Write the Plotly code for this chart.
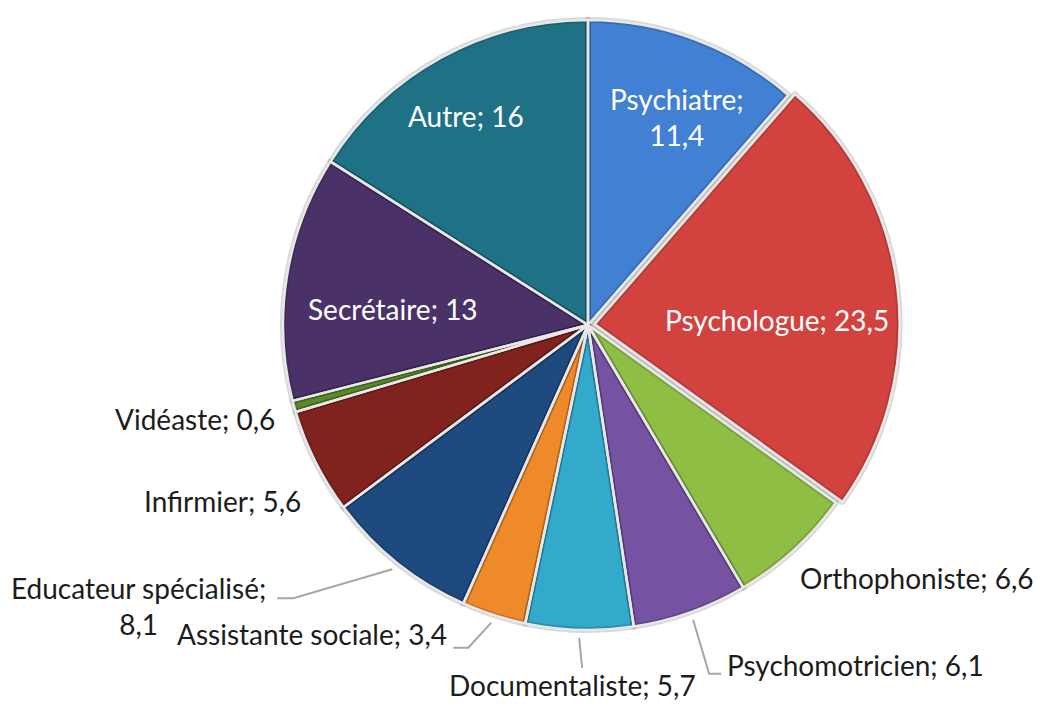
import math
import plotly.graph_objects as go

# ---------------- data ----------------
labels = ["Psychiatre", "Psychologue", "Orthophoniste", "Psychomotricien",
          "Documentaliste", "Assistante sociale", "Educateur spécialisé",
          "Infirmier", "Vidéaste", "Secrétaire", "Autre"]
values = [11.4, 23.5, 6.6, 6.1, 5.7, 3.4, 8.1, 5.6, 0.6, 13, 16]
colors = ["#4180d2", "#d2433f", "#8fbe45", "#7553a2", "#33a9cb", "#ef8a2a",
          "#1f4a80", "#80231f", "#5b8a2c", "#4a3268", "#1f7286"]
pulls = [0, 0.022, 0, 0, 0, 0, 0, 0, 0, 0, 0]

# ---------------- geometry ----------------
W, H = 1037, 704
CX, CY, R = 588, 325, 305
maxpull = max(pulls)
half = R * (1 + maxpull)
dom_x = [(CX - half) / W, (CX + half) / W]
dom_y = [1 - (CY + half) / H, 1 - (CY - half) / H]

total = sum(values)
mids = []
acc = 0
for v in values:
    mids.append((acc + v / 2) / total * 360)
    acc += v


def pt(theta, r):
    a = math.radians(theta)
    return CX + r * math.sin(a), CY - r * math.cos(a)


def vtxt(v):
    return f"{v:g}".replace(".", ",")


FONT = "Lato"
FS = 28

fig = go.Figure()
common = dict(labels=labels, values=values, sort=False, direction="clockwise",
              rotation=0, pull=pulls, textinfo="none",
              domain=dict(x=dom_x, y=dom_y), showlegend=False)
# filled slices
fig.add_trace(go.Pie(marker=dict(colors=colors, line=dict(width=0)),
                     hoverinfo="label+value", **common))
# soft dark rim (bevel impression)
fig.add_trace(go.Pie(marker=dict(colors=["rgba(0,0,0,0)"] * len(values),
                                 line=dict(color="rgba(0,0,0,0.15)", width=6)),
                     hoverinfo="skip", **common))
# light separators
fig.add_trace(go.Pie(marker=dict(colors=["rgba(0,0,0,0)"] * len(values),
                                 line=dict(color="#e8e8e8", width=2.5)),
                     hoverinfo="skip", **common))

annotations = []

# inside labels: index -> (radius fraction, nudge dx, nudge dy, text)
inside = {
    0: (0.73, 11, 1, "Psychiatre;<br>" + vtxt(values[0])),
    1: (0.61, 4, 17, None),
    9: (0.655, 2, 15, None),
    10: (0.775, -8, -2, None),
}
for i, (rf, dx, dy, txt) in inside.items():
    x, y = pt(mids[i], R * rf)
    annotations.append(dict(
        x=x + dx, y=y + dy, xref="x", yref="y", showarrow=False,
        text=txt or f"{labels[i]}; {vtxt(values[i])}",
        font=dict(family=FONT, size=FS, color="white"),
        xanchor="center", yanchor="middle", align="center"))

# outside labels
outside = {
    2: dict(line=False, toff=(4, 28), xa="left"),
    3: dict(line=True, elb=(16, 54), hseg=12, toff=(4, -9), xa="left"),
    4: dict(line=True, elb=(3, 30), hseg=0, toff=(-10, 17), xa="center"),
    5: dict(line=True, elb=(-23, 25), hseg=-15, toff=(-4, -14), xa="right"),
    6: dict(line=True, elb=(-99, 29), hseg=-16, toff=(-9, 8), xa="right",
            text=f"{labels[6]};<br>{vtxt(values[6])}"),
    7: dict(line=False, toff=(-12, 39), xa="right"),
    8: dict(line=False, toff=(-17, 13), xa="right"),
}
for i, spec in outside.items():
    if spec["line"]:
        sx, sy = pt(mids[i], R + 8)
        ex, ey = sx + spec["elb"][0], sy + spec["elb"][1]
        hx = ex + spec["hseg"]
        fig.add_trace(go.Scatter(
            x=[sx, ex, hx], y=[sy, ey, ey], mode="lines",
            line=dict(color="#a6a6a6", width=2), hoverinfo="skip",
            showlegend=False, xaxis="x", yaxis="y"))
        tx, ty = hx + spec["toff"][0], ey + spec["toff"][1]
    else:
        bx, by = pt(mids[i], R)
        tx, ty = bx + spec["toff"][0], by + spec["toff"][1]
    annotations.append(dict(
        x=tx, y=ty, xref="x", yref="y", showarrow=False,
        text=spec.get("text", f"{labels[i]}; {vtxt(values[i])}"),
        font=dict(family=FONT, size=FS, color="#1c1c1c"),
        xanchor=spec["xa"], yanchor="middle", align="center"))

fig.update_layout(
    width=W, height=H, margin=dict(l=0, r=0, t=0, b=0),
    paper_bgcolor="white", plot_bgcolor="rgba(0,0,0,0)",
    xaxis=dict(range=[0, W], visible=False, fixedrange=True, domain=[0, 1]),
    yaxis=dict(range=[H, 0], visible=False, fixedrange=True, domain=[0, 1]),
    annotations=annotations, showlegend=False,
)
fig.write_html("out.html", config={"displayModeBar": False},
               post_script="document.body.style.margin='0';"
                           "document.body.style.overflow='hidden';")
